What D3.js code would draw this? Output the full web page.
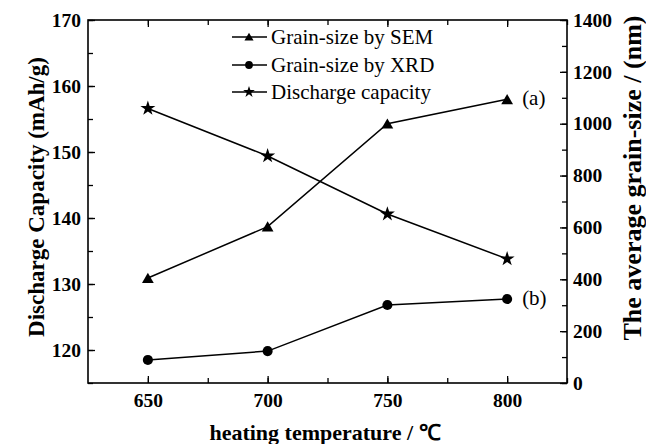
<!DOCTYPE html>
<html><head><meta charset="utf-8">
<script src="https://cdn.jsdelivr.net/npm/d3@7"></script>
<style>body{margin:0;background:#fff}svg{display:block}text{font-family:"Liberation Serif","Times New Roman",serif}</style>
</head><body>
<svg id="c" width="646" height="444"></svg>
<script>
const temperatures = [650, 700, 750, 800];
const semSize = [405, 603, 1000, 1094];
const xrdSize = [89, 123, 301, 324];
const capacity = [156.6, 149.4, 140.6, 133.8];
const xTicks = [650, 700, 750, 800];
const leftTicks = [120, 130, 140, 150, 160, 170];
const rightTicks = [0, 200, 400, 600, 800, 1000, 1200, 1400];
const legendLabels = ["Grain-size by SEM", "Grain-size by XRD", "Discharge capacity"];

const svg = d3.select("#c");
const L = 88, R = 567, T = 20, B = 383;
const x = d3.scaleLinear().domain([625, 825]).range([L, R]);
const yL = d3.scaleLinear().domain([115, 170]).range([B, T]);
const yR = d3.scaleLinear().domain([0, 1400]).range([B, T]);

const tickFont = g => g.selectAll("text").attr("font-size", 19.5).attr("font-weight", "bold").attr("font-family", "Liberation Serif, serif").attr("fill", "#000");
const styleAx = g => { g.select(".domain").remove(); g.selectAll("line").attr("stroke", "#000").attr("stroke-width", 1.3); };

const xMinor = d3.range(650, 826, 25);
svg.append("g").attr("transform", `translate(0,${B})`)
  .call(d3.axisBottom(x).tickValues(xMinor).tickSize(-5).tickFormat("")).call(styleAx);
svg.append("g").attr("transform", `translate(0,${T})`)
  .call(d3.axisTop(x).tickValues(xMinor).tickSize(-5).tickFormat("")).call(styleAx);
svg.append("g").attr("transform", `translate(0,${B})`)
  .call(d3.axisBottom(x).tickValues(xTicks).tickSize(-7).tickPadding(10).tickFormat(d3.format("d"))).call(styleAx).call(tickFont);
svg.append("g").attr("transform", `translate(0,${T})`)
  .call(d3.axisTop(x).tickValues(xTicks).tickSize(-7).tickFormat("")).call(styleAx);

svg.append("g").attr("transform", `translate(${L},0)`)
  .call(d3.axisLeft(yL).tickValues(d3.range(115, 171, 5)).tickSize(-5).tickFormat("")).call(styleAx);
svg.append("g").attr("transform", `translate(${L},0)`)
  .call(d3.axisLeft(yL).tickValues(leftTicks).tickSize(-7).tickPadding(7).tickFormat(d3.format("d"))).call(styleAx).call(tickFont);

svg.append("g").attr("transform", `translate(${R},0)`)
  .call(d3.axisRight(yR).tickValues(d3.range(0, 1401, 100)).tickSize(-5).tickFormat("")).call(styleAx);
svg.append("g").attr("transform", `translate(${R},0)`)
  .call(d3.axisRight(yR).tickValues(rightTicks).tickSize(-7).tickPadding(6).tickFormat(d3.format("d"))).call(styleAx).call(tickFont);

svg.append("rect").attr("x", L).attr("y", T).attr("width", R - L).attr("height", B - T)
  .attr("fill", "none").attr("stroke", "#000").attr("stroke-width", 1.6);

const series = [
  {vals: semSize, y: yR, sym: d3.symbolTriangle, size: 60, dy: 1.5},
  {vals: xrdSize, y: yR, sym: d3.symbolCircle, size: 80, dy: 0},
  {vals: capacity, y: yL, sym: d3.symbolStar, size: 70, dy: 0}
];
series.forEach(s => {
  const line = d3.line().x((d, i) => x(temperatures[i])).y(d => s.y(d));
  svg.append("path").attr("d", line(s.vals)).attr("fill", "none").attr("stroke", "#000").attr("stroke-width", 1.5);
  svg.selectAll(null).data(s.vals).enter().append("path")
    .attr("d", d3.symbol().type(s.sym).size(s.size))
    .attr("transform", (d, i) => `translate(${x(temperatures[i])},${s.y(d) + s.dy})`)
    .attr("fill", "#000");
});

svg.append("text").attr("x", x(800) + 15).attr("y", yR(semSize[3]) + 6).attr("font-size", 21).text("(a)");
svg.append("text").attr("x", x(800) + 15).attr("y", yR(xrdSize[3]) + 6).attr("font-size", 21).text("(b)");

const legY = [37, 65, 92];
legendLabels.forEach((t, i) => {
  const g = svg.append("g");
  g.append("line").attr("x1", 232).attr("x2", 267).attr("y1", legY[i]).attr("y2", legY[i]).attr("stroke", "#000").attr("stroke-width", 1.5);
  g.append("path").attr("d", d3.symbol().type(series[i].sym).size(series[i].size * 0.6))
    .attr("transform", `translate(249,${legY[i] + series[i].dy * 0.6})`).attr("fill", "#000");
  g.append("text").attr("x", 271).attr("y", legY[i] + 7).attr("font-size", 21).text(t);
});

svg.append("text").attr("transform", "translate(44,197) rotate(-90)").attr("text-anchor", "middle")
  .attr("font-size", 23).attr("font-weight", "bold").text("Discharge Capacity (mAh/g)");
svg.append("text").attr("transform", "translate(641,178) rotate(-90)").attr("text-anchor", "middle")
  .attr("font-size", 26).attr("font-weight", "bold").text("The average grain-size / (nm)");
svg.append("text").attr("x", 325).attr("y", 440).attr("text-anchor", "middle")
  .attr("font-size", 22).attr("font-weight", "bold").text("heating temperature / ℃");
</script>
</body></html>
